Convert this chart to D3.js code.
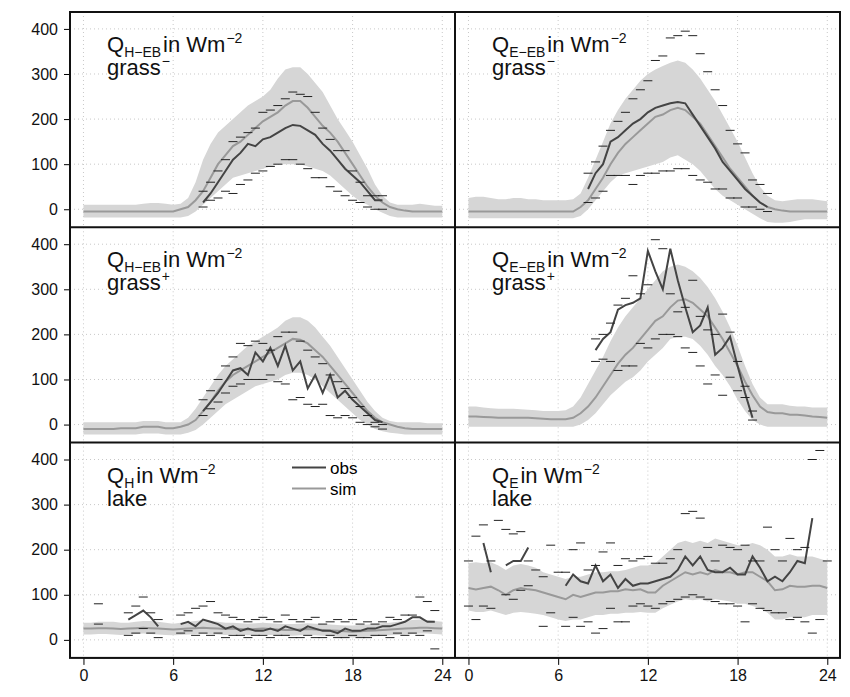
<!DOCTYPE html>
<html><head><meta charset="utf-8">
<script src="https://cdn.jsdelivr.net/npm/d3@7"></script>
<style>body{margin:0;background:#fff}text{font-family:"Liberation Sans",Arial,sans-serif}</style>
</head><body><div id="chart"></div>
<script>
// half-hourly time steps 0..24
const hours = d3.range(49).map(i => i / 2)
const N = null

// QH-EB grass-
const sim1 = [-5,-5,-5,-5,-5,-5,-5,-5,-5,-5,-5,-5,-5,0,5,20,40,70,100,120,140,150,165,180,195,205,215,230,240,240,225,205,185,170,150,125,100,75,50,30,15,5,0,-3,-5,-5,-5,-5,-5]
const hi1 = [10,10,10,10,10,10,10,10,12,14,14,12,10,12,25,60,110,145,170,185,200,215,230,240,250,265,290,310,315,315,300,280,260,230,200,175,150,120,90,55,30,15,10,10,10,12,10,8,8]
const lo1 = [-18,-18,-18,-18,-18,-18,-18,-18,-18,-18,-18,-18,-18,-18,-15,-5,10,25,40,55,70,75,80,85,90,95,100,100,100,100,95,90,85,75,60,45,30,18,10,0,-8,-15,-18,-18,-18,-18,-18,-18,-18]
const obs1 = [N,N,N,N,N,N,N,N,N,N,N,N,N,N,N,N,15,35,60,85,110,125,145,140,155,160,170,180,187,185,175,165,145,130,110,90,75,60,40,20,20,N,N,N,N,N,N,N,N]
const dHi1 = [N,N,N,N,N,N,N,N,N,N,N,N,N,N,N,N,40,60,85,110,150,160,170,180,215,220,230,245,260,255,250,215,180,155,130,130,85,60,30,30,30,N,N,N,N,N,N,N,N]
const dLo1 = [N,N,N,N,N,N,N,N,N,N,N,N,N,N,N,N,5,20,25,40,35,55,65,80,85,95,100,110,110,100,90,70,70,50,40,30,20,15,5,0,0,N,N,N,N,N,N,N,N]

// QE-EB grass-
const sim2 = [-5,-5,-5,-5,-5,-5,-5,-5,-5,-5,-5,-5,-5,-5,-5,5,20,45,70,100,125,145,160,175,190,205,210,220,225,220,205,190,165,140,115,90,70,50,30,15,5,0,-3,-5,-5,-5,-5,-5,-5]
const hi2 = [25,28,28,25,22,22,25,25,22,22,20,20,20,20,22,35,70,110,150,190,220,245,265,285,300,310,318,325,330,325,310,290,265,240,210,180,150,115,80,50,30,20,18,20,22,22,22,20,18]
const lo2 = [-20,-20,-20,-20,-20,-20,-20,-20,-20,-20,-20,-20,-20,-20,-20,-15,0,20,40,60,75,80,85,90,95,100,105,115,120,110,100,85,65,45,30,20,10,0,-10,-20,-28,-30,-30,-28,-25,-22,-22,-22,-22]
const obs2 = [N,N,N,N,N,N,N,N,N,N,N,N,N,N,N,N,45,80,100,150,160,175,190,200,215,225,230,235,238,235,210,185,160,135,105,85,65,45,30,15,5,N,N,N,N,N,N,N,N]
const dHi2 = [N,N,N,N,N,N,N,N,N,N,N,N,N,N,N,N,80,105,140,175,195,215,245,265,285,330,340,380,385,395,385,345,305,265,230,175,145,125,65,55,35,N,N,N,N,N,N,N,N]
const dLo2 = [N,N,N,N,N,N,N,N,N,N,N,N,N,N,N,N,15,25,40,75,75,75,55,75,80,80,85,85,90,90,75,65,60,45,45,25,25,5,5,0,-5,N,N,N,N,N,N,N,N]

// QH-EB grass+
const sim3 = [-10,-10,-10,-10,-10,-8,-8,-8,-5,-5,-5,-8,-8,-5,0,10,30,50,75,95,110,120,130,140,150,160,170,180,190,188,180,165,150,130,110,90,70,50,30,15,5,0,-5,-8,-10,-10,-10,-10,-10]
const hi3 = [5,5,5,5,5,5,5,5,8,8,8,5,5,5,15,35,60,85,110,130,145,160,175,185,195,205,215,230,238,238,230,215,195,175,150,125,100,75,50,30,15,8,5,5,5,5,3,3,3]
const lo3 = [-22,-22,-22,-22,-22,-22,-22,-22,-20,-20,-20,-22,-22,-22,-18,-12,0,15,30,45,55,65,75,85,90,95,100,110,115,115,110,100,85,70,55,40,25,10,0,-10,-15,-18,-20,-22,-22,-22,-22,-22,-22]
const obs3 = [N,N,N,N,N,N,N,N,N,N,N,N,N,N,N,N,30,50,70,95,120,125,110,160,140,170,130,175,120,140,80,110,70,110,60,75,55,40,25,10,5,N,N,N,N,N,N,N,N]
const dHi3 = [N,N,N,N,N,N,N,N,N,N,N,N,N,N,N,N,55,75,100,130,150,180,175,185,180,165,195,205,205,185,165,150,135,110,95,80,60,40,20,5,0,N,N,N,N,N,N,N,N]
const dLo3 = [N,N,N,N,N,N,N,N,N,N,N,N,N,N,N,N,20,35,50,70,85,90,100,100,100,110,95,90,55,60,45,40,45,20,15,20,15,5,0,-5,-10,N,N,N,N,N,N,N,N]

// QE-EB grass+
const sim4 = [18,18,17,16,15,15,15,15,15,14,13,12,12,12,15,25,40,60,85,110,135,155,170,190,210,230,240,260,275,278,270,255,240,215,190,160,130,95,65,40,28,25,25,22,22,20,18,17,15]
const hi4 = [40,40,38,36,35,35,35,34,33,32,30,30,30,32,40,60,90,120,150,185,215,240,260,280,300,320,340,350,355,350,340,325,305,280,250,215,175,130,90,60,45,45,45,42,40,40,38,38,38]
const lo4 = [-5,-5,-5,-5,-5,-5,-5,-5,-5,-5,-5,-5,-5,-5,-5,0,10,25,45,65,80,95,105,120,140,155,170,190,195,195,190,175,155,130,110,85,55,30,10,0,-5,-5,-5,-5,-5,-5,-5,-5,-5]
const obs4 = [N,N,N,N,N,N,N,N,N,N,N,N,N,N,N,N,N,165,190,205,255,265,270,280,385,340,300,390,320,260,205,220,260,155,170,195,130,70,15,N,N,N,N,N,N,N,N,N,N]
const dHi4 = [N,N,N,N,N,N,N,N,N,N,N,N,N,N,N,N,N,190,200,225,265,280,330,290,310,410,390,290,250,260,320,240,210,200,245,205,140,85,30,N,N,N,N,N,N,N,N,N,N]
const dLo4 = [N,N,N,N,N,N,N,N,N,N,N,N,N,N,N,N,N,140,145,140,120,130,130,180,170,190,200,200,195,170,160,130,90,110,65,105,75,60,10,N,N,N,N,N,N,N,N,N,N]

// QH lake
const sim5 = [25,25,26,26,25,24,25,26,27,26,25,24,23,24,25,26,27,26,25,24,25,24,23,24,25,24,23,22,22,23,24,23,22,21,20,19,18,19,20,21,22,23,24,25,26,27,27,26,25]
const hi5 = [38,38,40,40,40,38,38,40,42,42,40,38,36,38,40,42,44,42,40,38,38,37,36,37,38,37,36,35,35,36,37,36,35,34,33,32,32,33,34,36,37,38,40,42,44,45,44,42,40]
const lo5 = [12,12,13,13,12,11,12,13,14,13,12,11,10,11,12,13,14,13,12,11,12,11,10,11,12,11,10,9,9,10,11,10,9,8,7,6,5,6,7,8,9,10,11,12,13,14,14,13,12]
const obs5 = [N,N,N,N,N,N,45,55,65,50,30,N,N,35,40,30,45,40,35,25,30,20,25,20,20,25,20,30,25,20,30,25,20,20,15,25,20,20,25,25,30,30,35,40,50,50,40,40,N]
const dHi5 = [N,N,80,N,N,N,60,75,95,60,45,N,N,55,60,70,75,85,60,55,50,45,40,45,50,45,40,55,45,40,45,50,35,40,45,40,45,35,40,35,40,50,45,55,55,95,85,65,N]
const dLo5 = [N,N,35,N,N,N,10,15,25,15,5,N,N,15,20,10,15,10,15,5,10,10,5,10,10,5,10,10,5,5,10,5,5,10,5,5,10,5,5,10,10,5,15,10,15,10,20,-20,N]

// QE lake
const sim6 = [115,112,115,118,110,100,110,115,112,110,105,100,95,90,100,95,100,105,105,108,108,112,110,112,105,105,120,130,140,150,145,150,145,155,150,150,145,150,150,140,130,110,112,120,118,118,120,120,115]
const hi6 = [170,172,170,172,165,155,165,168,165,160,150,145,140,135,140,140,145,150,150,152,152,155,160,165,165,170,185,200,215,220,215,220,215,225,220,215,210,210,215,210,200,185,185,190,185,185,185,180,175]
const lo6 = [65,62,62,65,60,55,60,62,60,58,55,50,45,42,45,45,50,55,55,58,58,60,60,62,60,60,70,78,85,90,88,90,85,90,88,85,80,80,75,70,60,45,45,50,50,50,55,55,55]
const obs6 = [N,N,215,150,N,165,175,175,205,N,N,N,N,120,145,130,125,165,130,145,115,135,120,125,125,130,135,140,155,185,165,185,155,150,150,160,145,145,185,160,130,140,130,150,175,170,270,N,N]
const dHi6 = [175,230,255,175,265,245,235,240,175,155,140,210,150,150,200,215,155,165,195,215,165,180,175,180,185,170,170,180,200,280,285,270,205,175,210,205,200,210,175,175,250,200,175,225,200,205,400,420,175]
const dLo6 = [75,45,75,70,N,100,90,110,120,N,30,60,N,30,50,30,40,15,25,70,40,40,75,80,75,70,80,85,90,95,100,95,90,85,80,80,75,40,80,70,65,60,60,45,50,40,15,45,N]

const yTicks = [0, 100, 200, 300, 400]
const xTicks = [0, 6, 12, 18, 24]

const panels = [
  {col: 0, row: 0, q: 'H−EB', site: 'grass', sup: '−', sim: sim1, hi: hi1, lo: lo1, obs: obs1, dHi: dHi1, dLo: dLo1},
  {col: 1, row: 0, q: 'E−EB', site: 'grass', sup: '−', sim: sim2, hi: hi2, lo: lo2, obs: obs2, dHi: dHi2, dLo: dLo2},
  {col: 0, row: 1, q: 'H−EB', site: 'grass', sup: '+', sim: sim3, hi: hi3, lo: lo3, obs: obs3, dHi: dHi3, dLo: dLo3},
  {col: 1, row: 1, q: 'E−EB', site: 'grass', sup: '+', sim: sim4, hi: hi4, lo: lo4, obs: obs4, dHi: dHi4, dLo: dLo4},
  {col: 0, row: 2, q: 'H', site: 'lake', sup: '', sim: sim5, hi: hi5, lo: lo5, obs: obs5, dHi: dHi5, dLo: dLo5, legend: true},
  {col: 1, row: 2, q: 'E', site: 'lake', sup: '', sim: sim6, hi: hi6, lo: lo6, obs: obs6, dHi: dHi6, dLo: dLo6}
]

const dims = {width: 850, height: 697, left: 70, top: 12, pw: 385, ph: 215.3}

const svg = d3.select('#chart').append('svg')
  .attr('width', dims.width).attr('height', dims.height)

const x = d3.scaleLinear().domain([-0.9, 24.85]).range([0, dims.pw])
const y = d3.scaleLinear().domain([-40, 437.5]).range([dims.ph, 0])

panels.forEach(p => {
  const g = svg.append('g')
    .attr('transform', `translate(${dims.left + p.col * dims.pw}, ${dims.top + p.row * dims.ph})`)

  // grid
  g.selectAll('.gx').data(xTicks).join('line')
    .attr('x1', d => x(d)).attr('x2', d => x(d)).attr('y1', 0).attr('y2', dims.ph)
    .attr('stroke', '#c8c8c8').attr('stroke-dasharray', '1,3')
  g.selectAll('.gy').data(yTicks).join('line')
    .attr('y1', d => y(d)).attr('y2', d => y(d)).attr('x1', 0).attr('x2', dims.pw)
    .attr('stroke', '#c8c8c8').attr('stroke-dasharray', '1,3')

  const area = d3.area().x((d, i) => x(hours[i])).y0((d, i) => y(p.lo[i])).y1(d => y(d))
  g.append('path').attr('d', area(p.hi)).attr('fill', '#d6d6d6')

  const line = d3.line().defined(d => d !== null).x((d, i) => x(hours[i])).y(d => y(d))
  g.append('path').attr('d', line(p.sim)).attr('fill', 'none').attr('stroke', '#999').attr('stroke-width', 2)
  g.append('path').attr('d', line(p.obs)).attr('fill', 'none').attr('stroke', '#444').attr('stroke-width', 2)

  const dashes = []
  p.dHi.forEach((d, i) => { if (d !== null) dashes.push([hours[i], d]) })
  p.dLo.forEach((d, i) => { if (d !== null) dashes.push([hours[i], d]) })
  g.selectAll('.dash').data(dashes).join('line')
    .attr('x1', d => x(d[0]) - 4.5).attr('x2', d => x(d[0]) + 4.5)
    .attr('y1', d => y(d[1])).attr('y2', d => y(d[1]))
    .attr('stroke', '#222').attr('stroke-width', 1)

  // label
  const t = g.append('text').attr('x', 37).attr('y', 40).attr('font-size', 22).attr('fill', '#111')
  t.append('tspan').text('Q')
  t.append('tspan').attr('font-size', 14).attr('dy', 5).text(p.q)
  t.append('tspan').attr('dy', -5).attr('dx', 2).text('in Wm')
  t.append('tspan').attr('font-size', 14).attr('dy', -9).attr('dx', 1).text('−2')
  const t2 = g.append('text').attr('x', 37).attr('y', 63).attr('font-size', 22).attr('fill', '#111')
  t2.append('tspan').text(p.site)
  if (p.sup) t2.append('tspan').attr('font-size', 14).attr('dy', -9).attr('dx', 1).text(p.sup)

  if (p.legend) {
    const lg = g.append('g').attr('transform', 'translate(222, 25)')
    ;[['obs', '#444'], ['sim', '#999']].forEach((e, i) => {
      lg.append('line').attr('x1', 0).attr('x2', 34).attr('y1', i * 21).attr('y2', i * 21)
        .attr('stroke', e[1]).attr('stroke-width', 2)
      lg.append('text').attr('x', 38).attr('y', i * 21 + 6).attr('font-size', 17).text(e[0])
    })
  }

  if (p.col === 0) {
    g.append('g').call(d3.axisLeft(y).tickValues(yTicks).tickSize(6).tickPadding(6))
      .call(a => a.select('.domain').remove())
      .selectAll('text').attr('font-size', 16).attr('fill', '#111')
  }
  if (p.row === 2) {
    g.append('g').attr('transform', `translate(0, ${dims.ph})`)
      .call(d3.axisBottom(x).tickValues(xTicks).tickSize(7).tickPadding(5))
      .call(a => a.select('.domain').attr('d', `M${x(0)},0H${x(24)}`))
      .selectAll('text').attr('font-size', 16).attr('fill', '#111')
  }
})

// frame and dividers
svg.append('rect').attr('x', dims.left).attr('y', dims.top)
  .attr('width', dims.pw * 2).attr('height', dims.ph * 3)
  .attr('fill', 'none').attr('stroke', '#111').attr('stroke-width', 2)
svg.append('line').attr('x1', dims.left + dims.pw).attr('x2', dims.left + dims.pw)
  .attr('y1', dims.top).attr('y2', dims.top + dims.ph * 3).attr('stroke', '#111').attr('stroke-width', 2)
;[1, 2].forEach(r => svg.append('line').attr('x1', dims.left).attr('x2', dims.left + dims.pw * 2)
  .attr('y1', dims.top + dims.ph * r).attr('y2', dims.top + dims.ph * r).attr('stroke', '#111').attr('stroke-width', 2))
</script></body></html>
